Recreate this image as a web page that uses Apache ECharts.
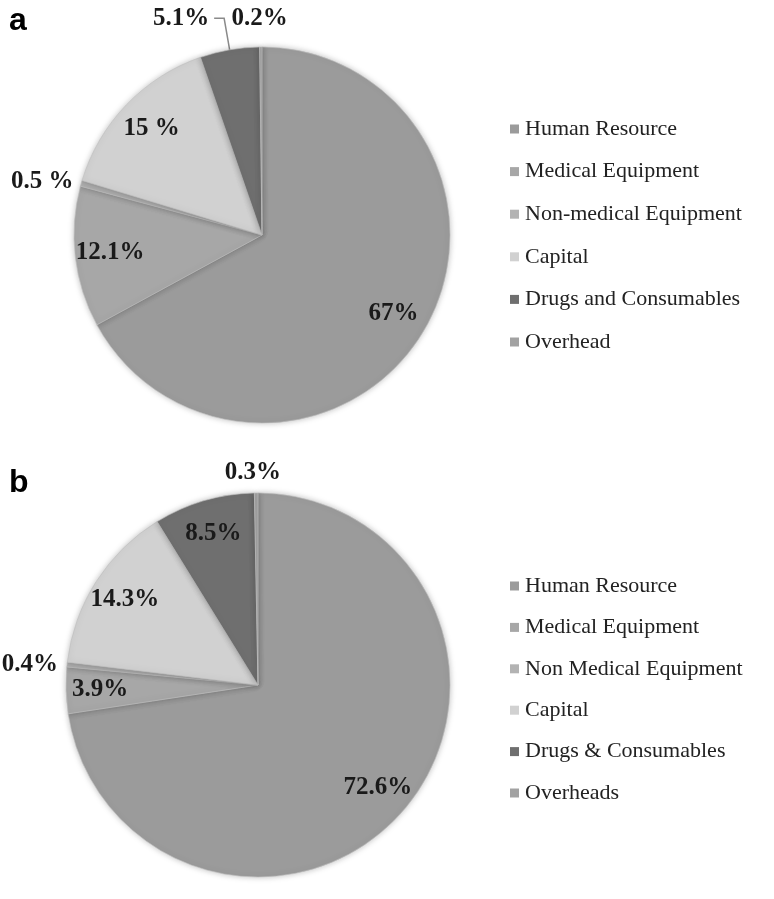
<!DOCTYPE html>
<html>
<head>
<meta charset="utf-8">
<script src="https://cdn.jsdelivr.net/npm/echarts@6/dist/echarts.min.js"></script>
<style>
	html, body { margin: 0; padding: 0; background: #fff; }
	#chart { width: 774px; height: 899px; }
</style>
</head>
<body>
<div id="chart"></div>
<script>
// panel a
const namesA = ['Human Resource', 'Medical Equipment', 'Non-medical Equipment', 'Capital', 'Drugs and Consumables', 'Overhead']
const valuesA = [67, 12.1, 0.5, 15, 5.1, 0.2]
const labelsA = ['67%', '12.1%', '0.5 %', '15 %', '5.1%', '0.2%']
// panel b
const namesB = ['Human Resource', 'Medical Equipment', 'Non Medical Equipment', 'Capital', 'Drugs & Consumables', 'Overheads']
const valuesB = [72.6, 3.9, 0.4, 14.3, 8.5, 0.3]
const labelsB = ['72.6%', '3.9%', '0.4%', '14.3%', '8.5%', '0.3%']

const colors = ['#9b9b9b', '#a7a7a7', '#b3b3b3', '#d1d1d1', '#6f6f6f', '#a2a2a2']

const serif = '"Liberation Serif", "Times New Roman", serif'

// which slices carry their label outside the pie
const outsideA = [false, false, true, false, true, true]
const outsideB = [false, false, true, false, false, true]

function pieData(names, values, labels, outside, lines) {
	return names.map((n, i) => ({
		name: n,
		value: values[i],
		itemStyle: { color: colors[i] },
		label: { show: outside[i], formatter: labels[i] },
		labelLine: lines[i]
	}))
}

function overlayData(names, values, labels, outside) {
	return names.map((n, i) => ({
		name: n,
		value: values[i],
		label: { show: !outside[i], formatter: labels[i] }
	}))
}

const linesA = [
	{}, {},
	{ show: false, length: 8, length2: 0 },
	{},
	{ show: true, length: 32, length2: 10 },
	{ show: false, length: 28, length2: 0 }
]
const linesB = [
	{}, {},
	{ show: false, length: 4, length2: 0 },
	{}, {},
	{ show: false, length: 20, length2: 0 }
]

const labelText = { color: '#1a1a1a', fontFamily: serif, fontWeight: 'bold', fontSize: 25 }

const basePie = {
	type: 'pie',
	startAngle: 90,
	clockwise: true,
	avoidLabelOverlap: false,
	minAngle: 0,
	label: Object.assign({ position: 'outside' }, labelText),
	labelLine: { lineStyle: { color: '#8a8a8a', width: 1.5 } },
	itemStyle: {
		borderColor: '#bdbdbd',
		borderWidth: 0.6,
		shadowBlur: 6,
		shadowColor: 'rgba(0,0,0,0.25)'
	},
	emphasis: { disabled: true }
}

const overlayPie = {
	type: 'pie',
	startAngle: 90,
	clockwise: true,
	silent: true,
	label: Object.assign({ position: 'inside' }, labelText),
	itemStyle: { color: 'rgba(0,0,0,0)' },
	emphasis: { disabled: true }
}

const legendBase = {
	orient: 'vertical',
	left: 505,
	itemWidth: 9,
	itemHeight: 9,
	icon: 'rect',
	selectedMode: false,
	itemStyle: { borderWidth: 0, shadowBlur: 0 },
	textStyle: { fontFamily: serif, fontSize: 22, color: '#222', lineHeight: 20, padding: [0, 0, 0, 1] }
}

const chart = echarts.init(document.getElementById('chart'))
chart.setOption({
	animation: false,
	title: [
		{ text: 'a', left: 4, top: 0, textStyle: { fontFamily: '"Liberation Sans", Arial', fontWeight: 'bold', fontSize: 32, color: '#000' } },
		{ text: 'b', left: 4, top: 462, textStyle: { fontFamily: '"Liberation Sans", Arial', fontWeight: 'bold', fontSize: 32, color: '#000' } }
	],
	legend: [
		Object.assign({}, legendBase, { top: 113, itemGap: 20.6, data: namesA }),
		Object.assign({}, legendBase, { top: 570, itemGap: 19.4, data: namesB })
	],
	series: [
		Object.assign({}, basePie, {
			name: 'a', center: [262, 235], radius: 188,
			data: pieData(namesA, valuesA, labelsA, outsideA, linesA),
			labelLayout: p => (p.dataIndex === 5 ? { dx: 32 } : p.dataIndex === 2 ? { dx: 5 } : {})
		}),
		Object.assign({}, basePie, {
			name: 'b', center: [258, 685], radius: 192,
			data: pieData(namesB, valuesB, labelsB, outsideB, linesB),
			labelLayout: p => (p.dataIndex === 5 ? { dx: 30 } : {})
		}),
		Object.assign({}, overlayPie, {
			name: 'a-labels', center: [262, 235], radius: 300,
			data: overlayData(namesA, valuesA, labelsA, outsideA)
		}),
		Object.assign({}, overlayPie, {
			name: 'b-labels', center: [258, 685], radius: 310,
			data: overlayData(namesB, valuesB, labelsB, outsideB)
		})
	]
})
</script>
</body>
</html>
